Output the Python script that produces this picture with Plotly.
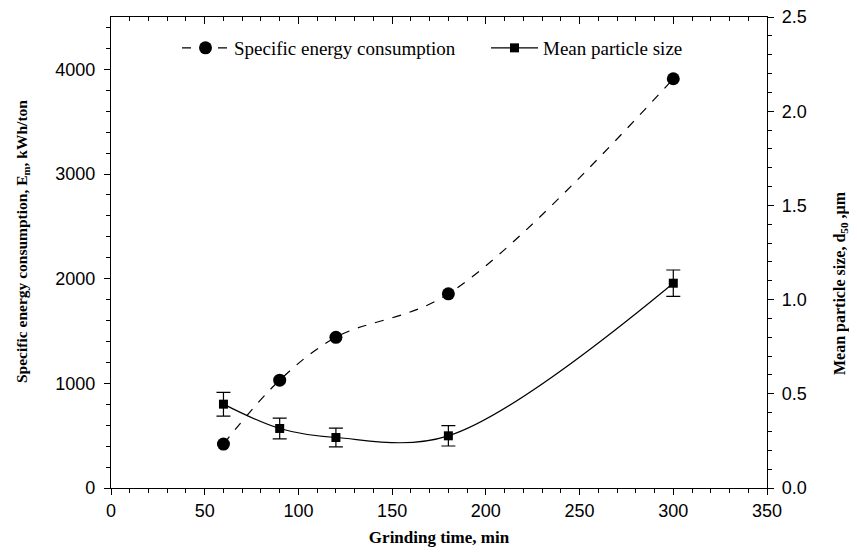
import plotly.graph_objects as go

time_min = [60, 90, 120, 180, 300]
energy_kwh_ton = [420, 1030, 1440, 1855, 3910]
d50_um = [0.445, 0.316, 0.268, 0.277, 1.087]
d50_err = [0.063, 0.055, 0.050, 0.054, 0.070]

serif = "Liberation Serif"
sans = "Liberation Sans"

fig = go.Figure()
fig.add_trace(go.Scatter(
    x=time_min, y=energy_kwh_ton, name="Specific energy consumption",
    mode="lines+markers", line=dict(color="black", width=1.2, dash="dash", shape="spline", smoothing=1),
    marker=dict(symbol="circle", size=13, color="black"), yaxis="y", legend="legend"))
fig.add_trace(go.Scatter(
    x=time_min, y=d50_um, name="Mean particle size",
    mode="lines+markers", line=dict(color="black", width=1.2, shape="spline", smoothing=1),
    marker=dict(symbol="square", size=9, color="black"),
    error_y=dict(type="data", array=d50_err, visible=True, color="black", thickness=1.2, width=7),
    yaxis="y2", legend="legend2"))
fig.add_trace(go.Scatter(x=[0], y=[0], xaxis="x2", yaxis="y", mode="markers",
                         marker=dict(opacity=0), showlegend=False, hoverinfo="skip"))

axis_common = dict(linecolor="black", linewidth=1.3, showgrid=False, zeroline=False,
                   ticks="outside", tickcolor="black", tickwidth=1.2, ticklen=6, automargin=False,
                   ticklabeloverflow="allow",
                   tickfont=dict(family=sans, size=18, color="black"))
legend_font = dict(family=serif, size=19, color="black")

# page body adds an 8px offset; plot area targeted at x 111-767, y 17-488 on screen
fig.update_layout(
    width=849, height=544, plot_bgcolor="white", paper_bgcolor="white",
    margin=dict(l=103, r=90, t=9, b=64),
    showlegend=True,
    legend=dict(x=(177 - 111) / 656, y=(488 - 48) / 471, xanchor="left", yanchor="middle",
                font=legend_font, bgcolor="rgba(0,0,0,0)", itemwidth=47),
    legend2=dict(x=(486 - 111) / 656, y=(488 - 48) / 471, xanchor="left", yanchor="middle",
                 font=legend_font, bgcolor="rgba(0,0,0,0)", itemwidth=47),
    xaxis=dict(range=[0, 350], dtick=50, showline=True, mirror=True,
               minor=dict(dtick=10, ticks="outside", ticklen=4, tickcolor="black"),
               title=dict(text="<b>Grinding time, min</b>", font=dict(family=serif, size=17, color="black"),
                          standoff=11),
               **axis_common),
    xaxis2=dict(range=[0, 350], dtick=50, overlaying="x", side="top", showticklabels=False,
                showline=False, showgrid=False, zeroline=False,
                ticks="inside", ticklen=7, tickwidth=1.2, tickcolor="black", automargin=False,
                minor=dict(dtick=10, ticks="inside", ticklen=4, tickcolor="black")),
    yaxis=dict(range=[0, 4500], dtick=1000, showline=True, ticklabelstandoff=5,
               minor=dict(dtick=200, ticks="outside", ticklen=4, tickcolor="black"),
               **axis_common),
    yaxis2=dict(range=[0, 2.5], dtick=0.5, tickformat=".1f", overlaying="y", side="right", showline=True,
                ticklabelstandoff=4,
                minor=dict(dtick=0.1, ticks="outside", ticklen=4, tickcolor="black"),
                **axis_common),
    annotations=[
        dict(text="<b>Specific energy consumption, E<sub>m</sub>, kWh/ton</b>", textangle=-90,
             xref="paper", yref="paper", x=(22 - 111) / 656, y=(488 - 242) / 471,
             xanchor="center", yanchor="middle", showarrow=False,
             font=dict(family=serif, size=15.5, color="black")),
        dict(text="<b>Mean particle size, d<sub>50</sub> ,µm</b>", textangle=-90,
             xref="paper", yref="paper", x=(840 - 111) / 656, y=(488 - 283) / 471,
             xanchor="center", yanchor="middle", showarrow=False,
             font=dict(family=serif, size=16, color="black")),
    ],
)

fig.write_html("out.html")
